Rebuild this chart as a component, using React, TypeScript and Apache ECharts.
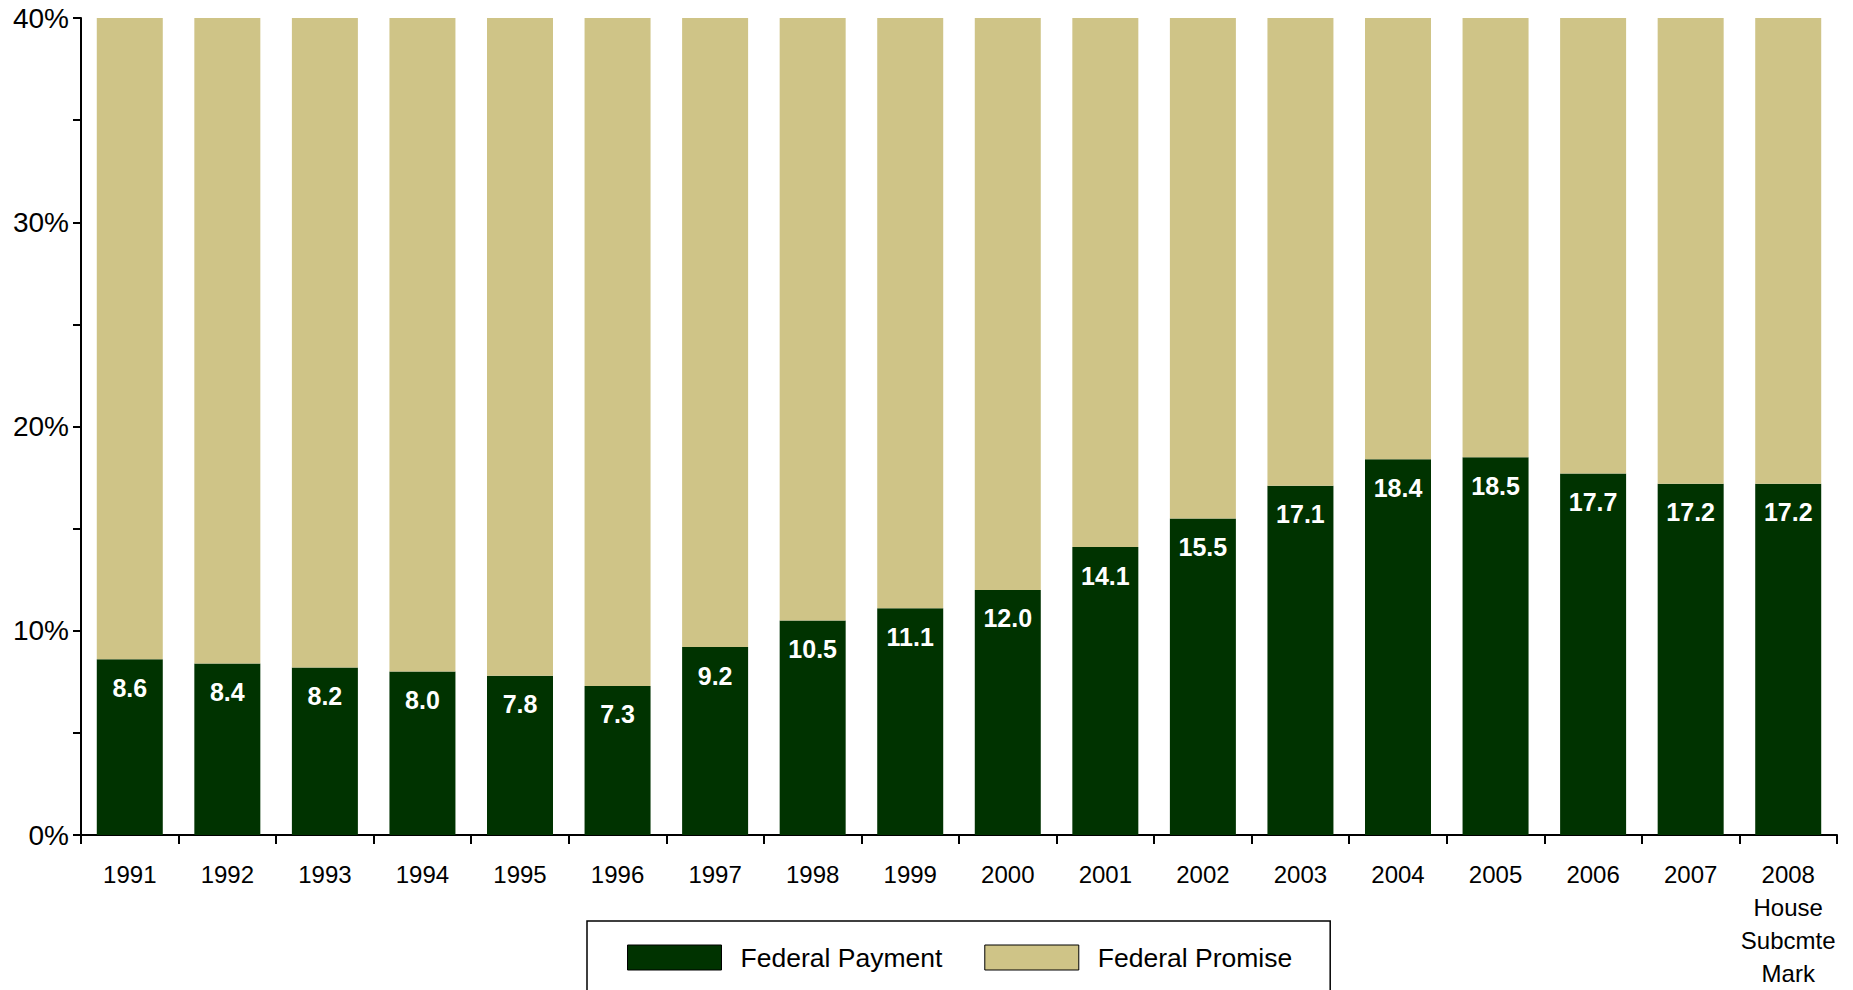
import React, { useEffect, useRef } from "react";
import * as echarts from "echarts";

const categories = [
  "1991", "1992", "1993", "1994", "1995", "1996", "1997", "1998", "1999",
  "2000", "2001", "2002", "2003", "2004", "2005", "2006", "2007",
  "2008\nHouse\nSubcmte\nMark",
];
const federalPayment = [8.6, 8.4, 8.2, 8.0, 7.8, 7.3, 9.2, 10.5, 11.1, 12.0, 14.1, 15.5, 17.1, 18.4, 18.5, 17.7, 17.2, 17.2];
const federalPromise = [31.4, 31.6, 31.8, 32.0, 32.2, 32.7, 30.8, 29.5, 28.9, 28.0, 25.9, 24.5, 22.9, 21.6, 21.5, 22.3, 22.8, 22.8];
const yTicks = [0, 10, 20, 30, 40];

const FONT = "'Liberation Sans', Arial, Helvetica, sans-serif";
const GREEN = "#003300";
const TAN = "#CFC487";

export default function App() {
  const ref = useRef<HTMLDivElement>(null);
  useEffect(() => {
    if (!ref.current) return;
    const chart = echarts.init(ref.current, undefined, { renderer: "svg" });
    chart.setOption({
      animation: false,
      backgroundColor: "#ffffff",
      textStyle: { fontFamily: FONT },
      grid: { left: 81, right: 16, top: 18, bottom: 151, containLabel: false },
      legend: {
        left: 587,
        top: 921,
        orient: "horizontal",
        padding: [23, 38, 45, 40],
        borderColor: "#000",
        borderWidth: 1.5,
        icon: "rect",
        itemWidth: 94,
        itemHeight: 25,
        itemGap: 42,
        textStyle: { fontSize: 26.5, color: "#000", fontFamily: FONT, padding: [0, 0, 0, 14] },
        data: [
          { name: "Federal Payment", itemStyle: { color: GREEN, borderColor: "#000", borderWidth: 1 } },
          { name: "Federal Promise", itemStyle: { color: TAN, borderColor: "#000", borderWidth: 1 } },
        ],
      },
      xAxis: {
        type: "category",
        data: categories,
        axisLine: { lineStyle: { color: "#000", width: 2 } },
        axisTick: { show: true, length: 9, alignWithLabel: false, lineStyle: { color: "#000", width: 2 } },
        axisLabel: {
          interval: 0,
          margin: 23,
          fontSize: 24,
          lineHeight: 33,
          color: "#000",
          fontFamily: FONT,
          verticalAlign: "top",
        },
      },
      yAxis: {
        type: "value",
        min: 0,
        max: 40,
        interval: 5,
        splitLine: { show: false },
        axisLine: { show: true, lineStyle: { color: "#000", width: 2 } },
        axisTick: { show: true, length: 8, lineStyle: { color: "#000", width: 2 } },
        axisLabel: {
          margin: 12,
          fontSize: 28,
          color: "#000",
          fontFamily: FONT,
          formatter: (v: number) => (yTicks.includes(v) ? `${v}%` : ""),
        },
      },
      series: [
        {
          name: "Federal Payment",
          type: "bar",
          stack: "total",
          barWidth: 66,
          data: federalPayment,
          itemStyle: { color: GREEN },
          label: {
            show: true,
            position: "insideTop",
            distance: 16,
            color: "#fff",
            fontSize: 25,
            fontWeight: "bold",
            fontFamily: FONT,
            formatter: (p: any) => Number(p.value).toFixed(1),
          },
        },
        {
          name: "Federal Promise",
          type: "bar",
          stack: "total",
          barWidth: 66,
          data: federalPromise,
          itemStyle: { color: TAN },
        },
      ],
    });
    return () => chart.dispose();
  }, []);
  return (
    <div
      ref={ref}
      style={{ position: "fixed", left: 0, top: 0, width: 1853, height: 990, background: "#fff" }}
    />
  );
}
